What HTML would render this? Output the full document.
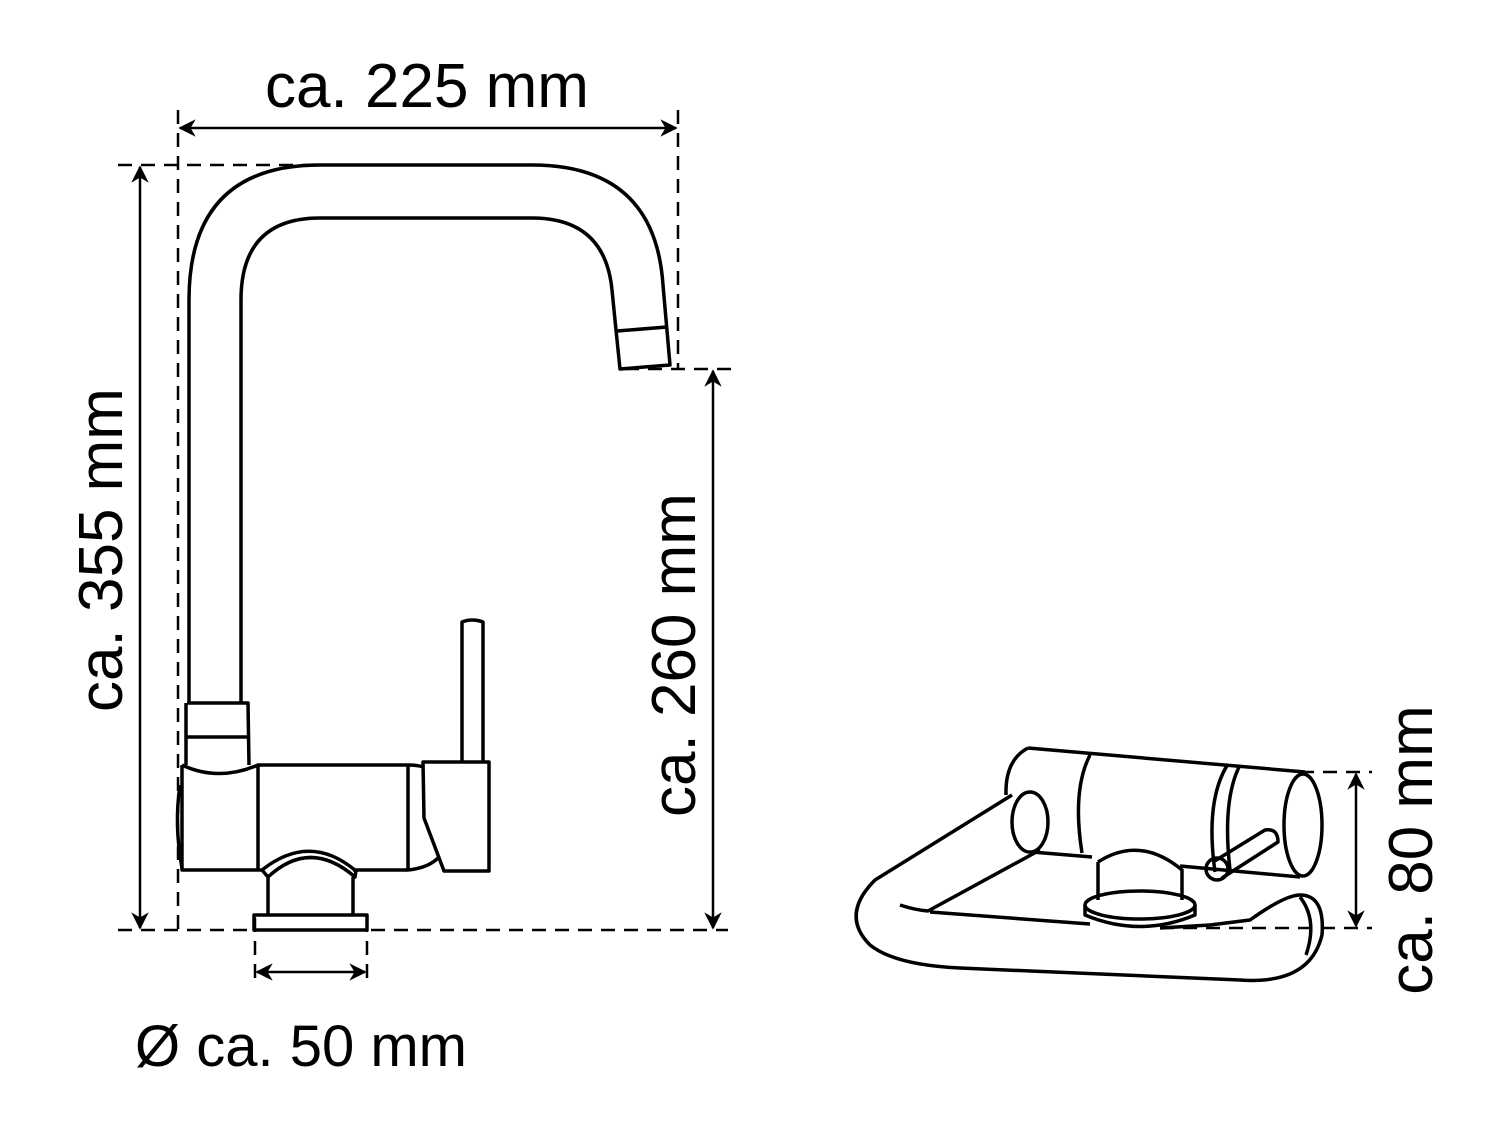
<!DOCTYPE html>
<html><head><meta charset="utf-8"><style>
html,body{margin:0;padding:0;background:#fff}
svg{display:block}
text{font-family:"Liberation Sans",sans-serif;fill:#000}
</style></head><body>
<svg width="1500" height="1125" viewBox="0 0 1500 1125" xmlns="http://www.w3.org/2000/svg">
<defs>
<marker id="a" viewBox="0 0 10 10" refX="9" refY="5" markerWidth="7" markerHeight="7" orient="auto-start-reverse"><path d="M0,0 L10,5 L0,10 L3,5 Z" fill="#000"/></marker>
</defs>
<g fill="none" stroke="#000" stroke-width="2.5" stroke-dasharray="14,9">
<line x1="178" y1="110" x2="178" y2="930"/>
<line x1="678" y1="110" x2="678" y2="368"/>
<line x1="118" y1="165" x2="320" y2="165"/>
<line x1="118" y1="930" x2="728" y2="930"/>
<line x1="625" y1="369" x2="735" y2="369"/>
<line x1="255" y1="918" x2="255" y2="985"/>
<line x1="367" y1="918" x2="367" y2="985"/>
<line x1="1300" y1="772" x2="1372" y2="772"/>
<line x1="1160" y1="928" x2="1372" y2="928"/>
</g>
<g stroke="#000" stroke-width="2.5" marker-start="url(#a)" marker-end="url(#a)">
<line x1="180" y1="128" x2="676" y2="128"/>
<line x1="140" y1="167" x2="140" y2="928"/>
<line x1="713" y1="371" x2="713" y2="928"/>
<line x1="257" y1="972" x2="365" y2="972"/>
<line x1="1356" y1="774" x2="1356" y2="926"/>
</g>
<text x="427" y="107" font-size="62" text-anchor="middle">ca. 225 mm</text>
<text transform="translate(122,550) rotate(-90)" font-size="62" text-anchor="middle">ca. 355 mm</text>
<text transform="translate(695,655) rotate(-90)" font-size="62" text-anchor="middle">ca. 260 mm</text>
<text x="135" y="1066" font-size="58">Ø ca. 50 mm</text>
<text transform="translate(1432,850) rotate(-90)" font-size="62" text-anchor="middle">ca. 80 mm</text>
<g fill="none" stroke="#000" stroke-width="3.5" stroke-linejoin="round">
<path d="M189,703 L189,300 Q189,165 320,165 L532,165 Q655,165 663,285 L670,365 L620,369 L616,330 L612,290 Q605,218 532,218 L320,218 Q241,218 241,300 L241,703"/>
<line x1="617" y1="331" x2="667" y2="327"/>
<path d="M187,703 L248,703 L249,765 M186,703 L186,765 M186,737 L248,737"/>
<path d="M182,765 Q218,782 258,765 L408,765 Q418,765 423,767 M182,765 L182,870 L258,870 L258,765 M258,870 L263,870 M408,765 L408,870"/>
<path d="M180,785 Q174,825 182,868"/>
<path d="M353,870 L408,870 Q428,868 438,858"/>
<path d="M423,762 L489,762 L489,871 L444,871 L424,818 Z"/>
<path d="M462,762 L462,622 Q472,618 483,622 L483,762"/>
<path d="M262,870 L268,877 Q310,838 355,877 L356,871 Q310,832 262,870 Z"/>
<path d="M268,877 L268,915 M353,877 L353,915"/>
<rect x="254" y="915" width="113" height="15"/>
<path d="M1028,748 L1305,772"/>
<path d="M1032,852 L1092,857 M1180,866 L1300,877"/>
<ellipse cx="1303" cy="825" rx="19" ry="51"/>
<path d="M1028,748 Q1005,760 1006,795"/>
<path d="M1090,755 Q1072,790 1082,853"/>
<path d="M1228,764 Q1205,800 1215,872 M1240,765 Q1222,800 1230,870"/>
<ellipse cx="1030" cy="822" rx="18" ry="30"/>
<path d="M1012,795 L875,880 Q840,915 870,945 Q895,965 960,968 L1240,980 Q1310,985 1322,935 Q1325,895 1300,895 Q1285,895 1250,920 L1210,925"/>
<path d="M1040,850 L928,911 Q915,910 900,905"/>
<path d="M930,912 L1090,924 M1160,928 L1210,925"/>
<path d="M1300,897 Q1318,920 1306,955"/>
<path d="M1098,862 Q1140,835 1182,870 L1182,900 M1098,862 L1098,900"/>
<ellipse cx="1140" cy="905" rx="55" ry="14"/>
<path d="M1085,905 L1085,915 Q1140,938 1195,915 L1195,905"/>
<path d="M1213,862 L1265,830 Q1278,828 1278,842 L1222,878"/>
<circle cx="1217" cy="869" r="11"/>
</g>
</svg>
</body></html>
